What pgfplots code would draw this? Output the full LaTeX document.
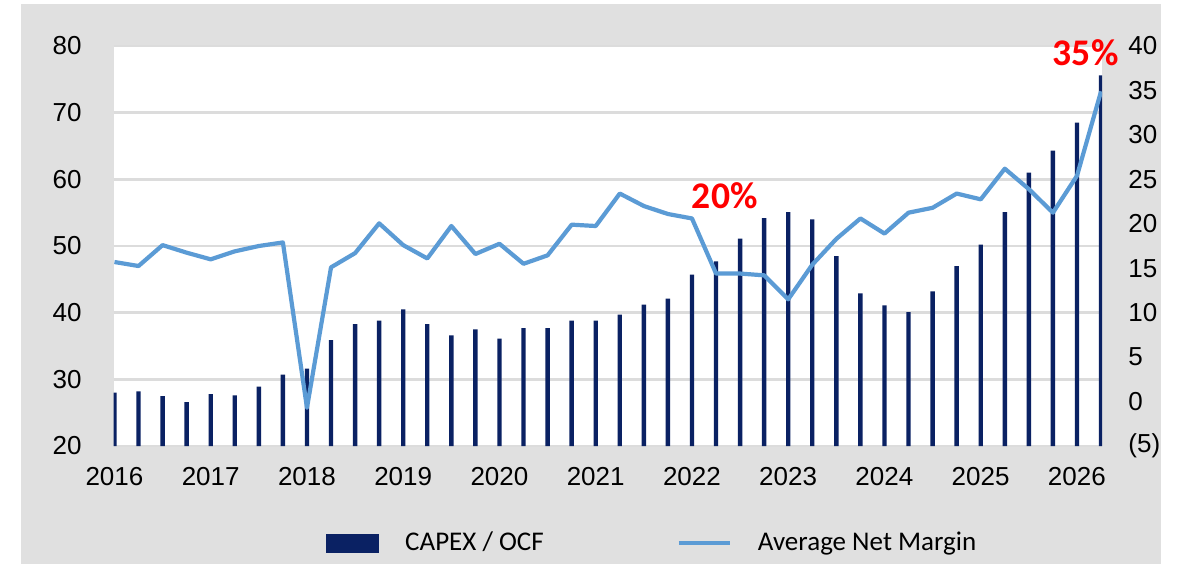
\documentclass[border=0pt]{standalone}
\usepackage{fontspec}
\setmainfont{Liberation Sans}
\newfontfamily\calibri{Carlito}
\usepackage{pgfplots}
\usepackage{pgfplotstable}
\pgfplotsset{compat=1.18}
\definecolor{navybar}{HTML}{0A2163}
\definecolor{lineblue}{HTML}{5B9BD5}
\definecolor{bggray}{HTML}{E0E0E0}
\definecolor{gridgray}{HTML}{DCDCDC}

\pgfplotstableread{
x capex margin
2016.00 28.0 15.7
2016.25 28.2 15.25
2016.50 27.5 17.6
2016.75 26.6 16.75
2017.00 27.8 16.0
2017.25 27.6 16.9
2017.50 28.9 17.5
2017.75 30.7 17.9
2018.00 31.6 -0.7
2018.25 35.9 15.1
2018.50 38.3 16.7
2018.75 38.8 20.05
2019.00 40.5 17.6
2019.25 38.3 16.1
2019.50 36.6 19.75
2019.75 37.5 16.6
2020.00 36.1 17.75
2020.25 37.7 15.5
2020.50 37.7 16.45
2020.75 38.8 19.9
2021.00 38.8 19.75
2021.25 39.7 23.4
2021.50 41.2 22.0
2021.75 42.1 21.1
2022.00 45.7 20.6
2022.25 47.7 14.4
2022.50 51.1 14.4
2022.75 54.2 14.2
2023.00 55.1 11.5
2023.25 54.0 15.4
2023.50 48.5 18.3
2023.75 42.9 20.6
2024.00 41.1 18.9
2024.25 40.1 21.25
2024.50 43.2 21.8
2024.75 47.0 23.4
2025.00 50.2 22.75
2025.25 55.1 26.2
2025.50 61.0 23.9
2025.75 64.3 21.25
2026.00 68.5 25.4
2026.25 75.6 34.9
}\datatable

\begin{document}
\begin{tikzpicture}
\fill[white] (0,0) rectangle (588.5pt,282pt);
\fill[bggray] (10.5pt,0) rectangle (580.5pt,280pt);
\pgfplotsset{common/.style={
  scale only axis, width=494.25pt, height=200pt,
  at={(56.75pt,59pt)}, anchor=south west,
  xmin=2015.99, xmax=2026.26,
  /pgf/number format/assume math mode=true,
  /pgf/number format/1000 sep={},
  tick label style={font=\fontsize{13}{15}\selectfont},
  major tick length=0pt,
  axis line style={draw=none},
}}
\begin{axis}[common,
  axis background/.style={fill=white},
  ymin=20, ymax=80, ytick={20,30,...,80},
  ymajorgrids, grid style={gridgray, line width=1.2pt},
  xtick={2016,...,2026},
  xticklabel style={anchor=north, inner sep=0pt, yshift=-10.5pt},
  yticklabel style={anchor=east, inner sep=0pt, xshift=-15.75pt},
]
\addplot[ybar, bar width=2.2pt, fill=navybar, draw=none] table[x=x, y=capex]{\datatable};
\end{axis}
\begin{axis}[common,
  ymin=-5, ymax=40, ytick={-5,0,...,40},
  yticklabels={(5),0,5,10,15,20,25,30,35,40},
  yticklabel pos=right,
  xtick=\empty,
  yticklabel style={anchor=west, inner sep=0pt, xshift=13pt},
  clip mode=individual,
  legend columns=2,
  legend style={draw=none, fill=none, inner sep=0pt,
    at={(0.215,-0.2425)}, anchor=west,
    font=\calibri\fontsize{13.5}{16}\selectfont,
    nodes={inner sep=0pt, anchor=west},
    /tikz/every odd column/.append style={column sep=13pt},
    /tikz/every even column/.append style={column sep=66.5pt}},
]
\addlegendimage{legend image code/.code={\fill[navybar] (0pt,-4.5pt) rectangle (26pt,4.5pt);}}
\addlegendentry{CAPEX / OCF}
\addplot[lineblue, line width=2.1pt, line join=round,
  legend image code/.code={\draw[lineblue,line width=2.1pt] (0pt,0pt)--(25.5pt,0pt);}]
  table[x=x, y=margin]{\datatable};
\addlegendentry{Average Net Margin}
\node[text=red, font=\calibri\bfseries\fontsize{18.8}{20}\selectfont] at (axis cs:2022.34,23.2) {20\%};
\node[text=red, font=\calibri\bfseries\fontsize{18.8}{20}\selectfont] at (axis cs:2026.09,39.3) {35\%};
\end{axis}
\end{tikzpicture}
\end{document}
